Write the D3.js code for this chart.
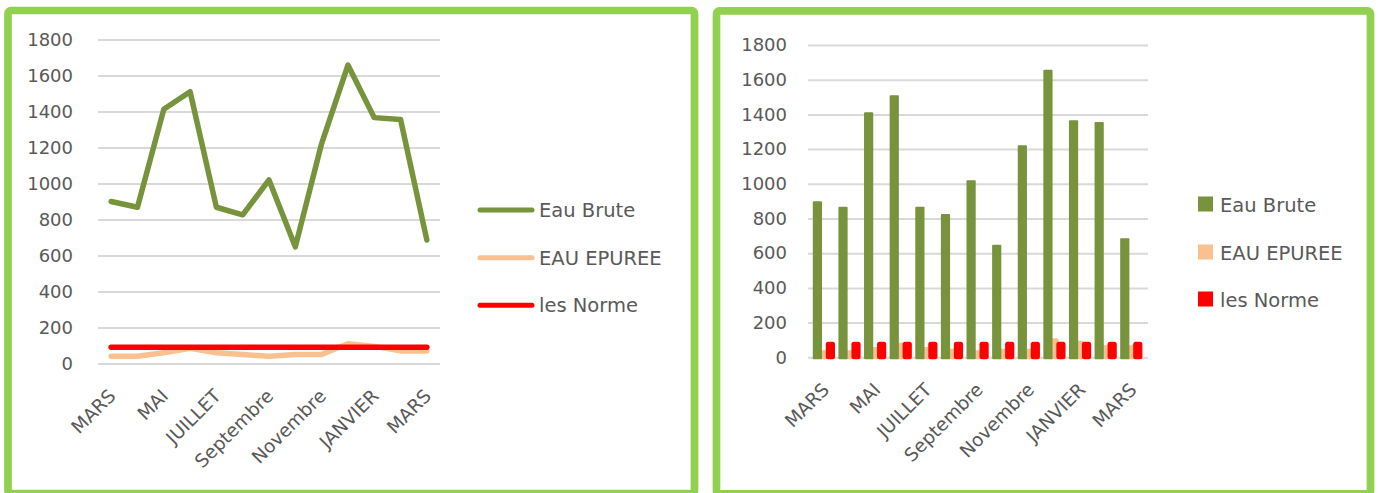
<!DOCTYPE html>
<html>
<head>
<meta charset="utf-8">
<script src="https://cdn.jsdelivr.net/npm/d3@7"></script>
<style>
	body { margin: 0; background: #fff; }
	svg { display: block; }
	text { font-family: "DejaVu Sans", sans-serif; }
	.axis text { fill: #595959; font-size: 18px; }
	.axis line { stroke: #d9d9d9; stroke-width: 2; }
	.axis path { display: none; }
	.xlabel { fill: #595959; font-size: 18.5px; }
	.legend text { fill: #595959; font-size: 19.5px; }
</style>
</head>
<body>
<svg></svg>
<script>
// data
var months = ["MARS", "AVRIL", "MAI", "JUIN", "JUILLET", "AOUT", "Septembre",
	"Octobre", "Novembre", "Décembre", "JANVIER", "FEVRIER", "MARS"];
var eauBrute = [900, 868, 1412, 1510, 868, 826, 1020, 648, 1222, 1658, 1366, 1356, 686];
var eauEpuree = [40, 40, 60, 84, 60, 50, 40, 50, 50, 110, 95, 70, 70];
var norme = [90, 90, 90, 90, 90, 90, 90, 90, 90, 90, 90, 90, 90];
var seriesNames = ["Eau Brute", "EAU EPUREE", "les Norme"];
var yTicks = [0, 200, 400, 600, 800, 1000, 1200, 1400, 1600, 1800];

var colors = ["#77933c", "#fac090", "#ff0000"];
var svgWidth = 1378, svgHeight = 493;
var svg = d3.select("svg")
	.attr("width", svgWidth)
	.attr("height", svgHeight);

drawFrames(svg);
drawLineChart(svg);
drawBarChart(svg);

// green frames round the two panels
function drawFrames(svg) {
	var frames = [[8, 10.5, 686.5, 483], [716.5, 10.8, 654, 483]];
	svg.selectAll("rect.frame")
		.data(frames)
		.enter()
		.append("rect")
		.attr("class", "frame")
		.attr("x", function(d) { return d[0]; })
		.attr("y", function(d) { return d[1]; })
		.attr("width", function(d) { return d[2]; })
		.attr("height", function(d) { return d[3]; })
		.attr("rx", 3)
		.attr("fill", "none")
		.attr("stroke", "#92d050")
		.attr("stroke-width", 7.7);
}

function setYAxis(svg, yScale, x0, width, pad) {
	svg.append("g")
		.attr("class", "axis")
		.attr("transform", "translate(" + x0 + ",0)")
		.call(d3.axisLeft(yScale)
			.tickValues(yTicks)
			.tickSize(-width)
			.tickPadding(pad)
			.tickFormat(d3.format("d")));
}

function setXLabels(svg, xScale, y0) {
	svg.append("g")
		.selectAll("text")
		.data(months)
		.enter()
		.filter(function(d, i) { return i % 2 == 0; })
		.append("text")
		.attr("class", "xlabel")
		.attr("text-anchor", "end")
		.attr("dy", "0.35em")
		.attr("transform", function(d, i) {
			var cx = xScale(i * 2) + xScale.bandwidth() / 2 + 1;
			return "translate(" + cx + "," + (y0 + 29) + ") rotate(-45)";
		})
		.text(function(d) { return d; });
}

// left panel: line chart
function drawLineChart(svg) {
	var idx = d3.range(months.length);
	var xScale = d3.scaleBand().domain(idx).range([98, 440]);
	var yScale = d3.scaleLinear().domain([0, 1800]).range([363.5, 39.5]);

	setYAxis(svg, yScale, 98, 342, 25);
	setXLabels(svg, xScale, 363.5);

	var line = d3.line()
		.x(function(d, i) { return xScale(i) + xScale.bandwidth() / 2; })
		.y(function(d) { return yScale(d); });

	[eauBrute, eauEpuree, norme].forEach(function(values, k) {
		svg.append("path")
			.datum(values)
			.attr("d", line)
			.attr("fill", "none")
			.attr("stroke", colors[k])
			.attr("stroke-width", 5.5)
			.attr("stroke-linecap", "round")
			.attr("stroke-linejoin", "round");
	});

	// legend
	var legend = svg.append("g").attr("class", "legend");
	var ly = [210, 257.7, 305.3];
	seriesNames.forEach(function(name, k) {
		legend.append("line")
			.attr("x1", 480).attr("x2", 532)
			.attr("y1", ly[k]).attr("y2", ly[k])
			.attr("stroke", colors[k])
			.attr("stroke-width", 5)
			.attr("stroke-linecap", "round");
		legend.append("text")
			.attr("x", 539)
			.attr("y", ly[k])
			.attr("dy", "0.35em")
			.text(name);
	});
}

// right panel: clustered columns
function drawBarChart(svg) {
	var idx = d3.range(months.length);
	var xScale = d3.scaleBand().domain(idx).range([812, 1145]);
	var yScale = d3.scaleLinear().domain([0, 1800]).range([357.3, 45]);
	// green, peach, red centres inside a group
	var sub = [-7.4, -1.6, 5.6];
	var barW = [9.2, 10, 9.2];

	setYAxis(svg, yScale, 808, 340, 21);
	setXLabels(svg, xScale, 357.3);

	var all = [eauBrute, eauEpuree, norme];
	// peach is drawn first: it sits behind the other two
	[1, 0, 2].forEach(function(k) {
		svg.append("g")
			.selectAll("rect")
			.data(all[k])
			.enter()
			.append("rect")
			.attr("x", function(d, i) {
				return xScale(i) + xScale.bandwidth() / 2 + sub[k] - barW[k] / 2;
			})
			.attr("y", function(d) { return yScale(d); })
			.attr("width", barW[k])
			.attr("height", function(d) { return yScale(0) - yScale(d) + 2; })
			.attr("rx", k == 0 ? 1 : 2.5)
			.attr("fill", colors[k]);
	});

	var legend = svg.append("g").attr("class", "legend");
	var ly = [204, 252, 299];
	seriesNames.forEach(function(name, k) {
		legend.append("rect")
			.attr("x", 1198).attr("y", ly[k] - 7.5)
			.attr("width", 15).attr("height", 15)
			.attr("fill", colors[k]);
		legend.append("text")
			.attr("x", 1220)
			.attr("y", ly[k] + 1.5)
			.attr("dy", "0.35em")
			.text(name);
	});
}
</script>
</body>
</html>
